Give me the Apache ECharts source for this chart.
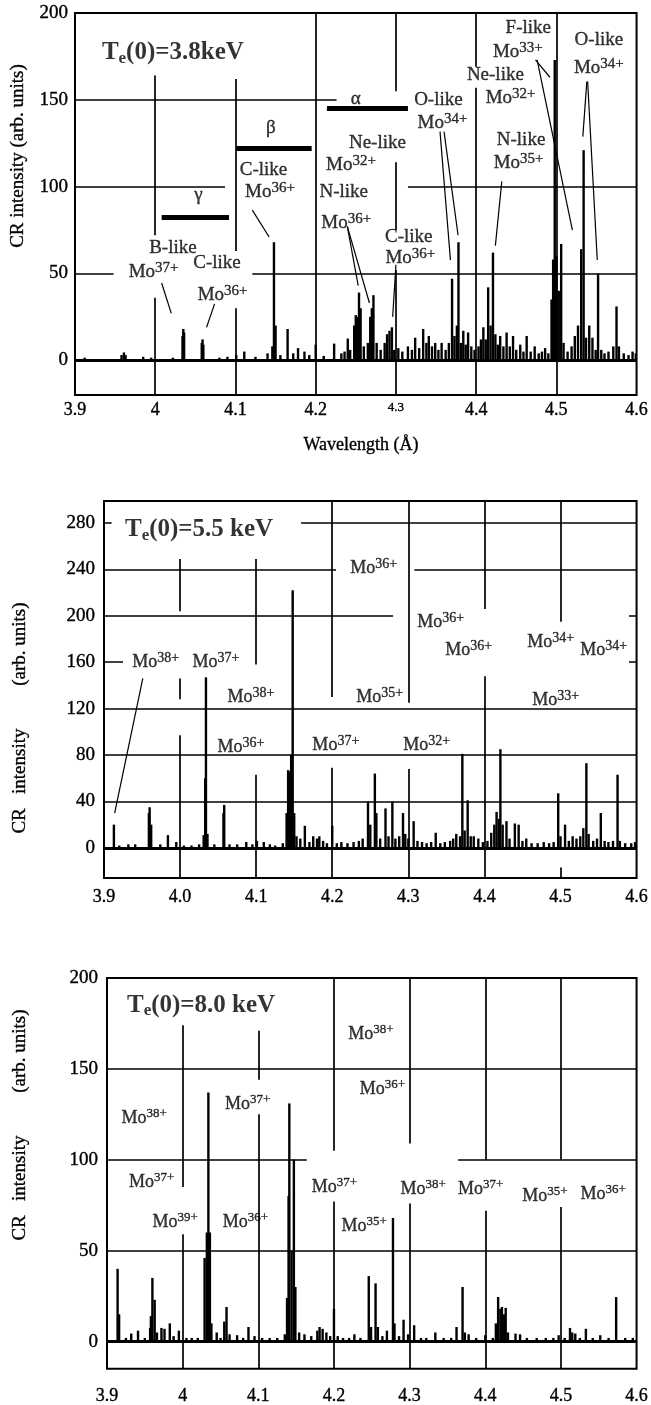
<!DOCTYPE html>
<html><head><meta charset="utf-8">
<script src="https://cdn.jsdelivr.net/npm/echarts@6/dist/echarts.min.js"></script>
<style>html,body{margin:0;padding:0;background:#fff}#c{width:651px;height:1405px}</style>
</head><body><div id="c"></div>
<script>
// ---------------- DATA ----------------
const xTicks = [3.9, 4.0, 4.1, 4.2, 4.3, 4.4, 4.5, 4.6];
const yTicks1 = [0, 50, 100, 150, 200];
const yTicks2 = [0, 40, 80, 120, 160, 200, 240, 280];
const yTicks3 = [0, 50, 100, 150, 200];

const titles = ['Te(0)=3.8keV', 'Te(0)=5.5 keV', 'Te(0)=8.0 keV'];
const titlePos = [[3.9335, 177], [3.9276, 274], [3.9264, 185]];

// spectra: [wavelength (Å), CR intensity]
const spec1 = [[3.912,1.5],[3.958,3],[3.961,4.5],[3.963,3],[3.985,2],[3.995,1.5],[4.022,1.5],
[4.034,14],[4.035,18],[4.036,16],[4.058,10],[4.059,12],[4.060,9],[4.080,1.5],[4.09,2],
[4.101,3],[4.111,5],[4.125,2],[4.140,4],[4.146,8],[4.148,68],[4.150,20],[4.156,3],[4.165,18],[4.172,4],[4.178,7],[4.186,5],[4.192,3],
[4.200,9],[4.210,2.5],[4.223,9.6],[4.232,4],[4.236,5],[4.240,12.5],[4.243,6],[4.248,20],[4.250,26],[4.252,25],[4.254,39],[4.256,30],[4.260,8],[4.265,10],[4.268,25],[4.270,30],[4.272,37.5],[4.276,10],[4.281,6],[4.286,10],[4.289,15],[4.292,17],[4.295,19],[4.298,6],[4.303,7],[4.308,5],[4.315,8],[4.320,6],[4.324,13],[4.329,7],[4.334,18],[4.338,10],[4.341,14],[4.345,8],[4.349,10],[4.353,6],[4.357,10],[4.362,6],[4.366,10],[4.370,47],[4.373,14],[4.376,20],[4.378,68],[4.381,10],[4.384,17],[4.387,9],[4.390,16],[4.394,8],[4.398,6],[4.403,8],[4.406,12],[4.409,19],[4.412,12],[4.415,42],[4.418,20],[4.421,62],[4.424,15],[4.427,9],[4.430,14],[4.434,8],[4.438,16],[4.442,8],[4.446,14],[4.450,6],[4.455,9],[4.459,5],[4.463,14],[4.468,5],[4.473,8],[4.478,4],[4.482,5],[4.486,7],[4.490,4],[4.494,35],[4.496,58],[4.498,173],[4.500,60],[4.503,40],[4.506,67],[4.509,10],[4.514,5],[4.519,8],[4.523,14],[4.527,20],[4.531,64],[4.534,121],[4.537,13],[4.541,20],[4.545,13],[4.549,6],[4.552,50],[4.556,6],[4.560,4],[4.565,5],[4.571,8],[4.575,31],[4.578,8],[4.584,4],[4.590,3],[4.595,5],[4.599,4]];

const spec2 = [[3.913,20],[3.920,2],[3.932,3],[3.941,3],[3.959,30],[3.960,35],[3.962,20],[3.974,3],[3.984,11],[3.995,5],[4.005,2],[4.015,2],[4.025,3],[4.031,11],[4.033,60],[4.034,147],[4.036,12],[4.045,3],[4.057,30],[4.058,37],[4.065,3],[4.075,3],[4.087,5],[4.095,3],[4.101,6],[4.110,5],[4.118,3],[4.125,2],[4.135,4],[4.140,30],[4.142,67],[4.144,66],[4.146,80],[4.148,222],[4.150,30],[4.153,10],[4.158,8],[4.164,19],[4.170,5],[4.175,10],[4.180,8],[4.183,10],[4.188,6],[4.193,4],[4.200,19],[4.206,4],[4.212,5],[4.220,4],[4.228,5],[4.235,6],[4.240,8],[4.247,40],[4.250,20],[4.256,64],[4.258,30],[4.263,8],[4.270,34],[4.274,10],[4.279,40],[4.283,8],[4.288,10],[4.293,30],[4.296,12],[4.300,8],[4.307,23],[4.312,6],[4.318,5],[4.324,4],[4.330,5],[4.336,13],[4.342,4],[4.348,5],[4.355,6],[4.359,8],[4.363,12],[4.368,10],[4.371,81],[4.374,15],[4.378,41],[4.382,10],[4.386,10],[4.392,8],[4.398,5],[4.404,6],[4.409,13],[4.413,20],[4.416,31],[4.419,25],[4.421,85],[4.424,20],[4.429,23],[4.433,8],[4.440,21],[4.445,20],[4.450,6],[4.455,8],[4.462,4],[4.470,4],[4.478,5],[4.485,4],[4.491,5],[4.497,47],[4.500,10],[4.506,20],[4.511,6],[4.516,10],[4.521,8],[4.526,10],[4.530,17],[4.534,73],[4.537,12],[4.543,6],[4.548,8],[4.553,30],[4.558,6],[4.563,5],[4.569,6],[4.575,63],[4.578,6],[4.585,4],[4.593,4],[4.598,5]];

const spec3 = [[3.914,40],[3.916,15],[3.925,2],[3.932,4.4],[3.941,6],[3.950,2],[3.957,7.5],[3.958,14],[3.960,35],[3.963,23],[3.966,5],[3.972,7.5],[3.976,7],[3.983,10],[3.988,3],[3.995,6],[4.005,2],[4.012,2],[4.020,2],[4.029,46],[4.032,60],[4.034,137],[4.036,60],[4.038,10],[4.045,5],[4.050,2],[4.055,11],[4.058,19],[4.062,4],[4.072,3.5],[4.080,2],[4.087,8],[4.095,3],[4.105,2],[4.115,2],[4.125,2],[4.135,4],[4.138,24],[4.140,80],[4.141,131],[4.144,50],[4.147,100],[4.149,30],[4.154,5],[4.161,4],[4.170,3],[4.178,6],[4.181,8],[4.185,7],[4.190,5],[4.195,3],[4.200,18],[4.205,3],[4.212,2],[4.220,2],[4.227,4],[4.235,2],[4.246,36],[4.249,8],[4.255,32],[4.258,8],[4.264,3],[4.270,6],[4.278,68],[4.280,10],[4.286,3],[4.292,12],[4.298,4],[4.306,9],[4.315,2],[4.322,2],[4.334,5],[4.345,2],[4.355,2],[4.362,8],[4.370,30],[4.373,5],[4.378,4],[4.388,2],[4.400,3.5],[4.410,2],[4.414,10],[4.417,24.5],[4.420,18],[4.422,19],[4.425,15],[4.427,18.5],[4.430,5],[4.440,4.4],[4.446,4],[4.455,2],[4.468,2],[4.480,2],[4.490,2],[4.497,3.5],[4.505,2],[4.512,7.5],[4.515,5],[4.519,4.4],[4.525,2],[4.533,7],[4.542,2],[4.552,3.5],[4.563,2],[4.573,24.5],[4.585,2],[4.595,2]];

// grid line pieces, horizontal: [intensity, from λ, to λ]; vertical: [λ, from I, to I]
const hGrid1 = [[150,3.9,4.226],[100,3.9,4.087],[100,4.315,4.6],[50,3.9,3.948],[50,4.121,4.6],[0,3.9,4.6]];
const vGrid1 = [[4.0,72,164],[4.0,-20,36],[4.1,63,162],[4.1,-20,30],[4.2,-20,200],[4.3,155,200],[4.3,75,114],[4.3,-20,52],[4.4,-20,157],[4.4,169,200],[4.5,-20,200]];
const hGrid2 = [[280,4.159,4.6],[280,3.9,3.91],[240,3.9,4.205],[240,4.308,4.6],[200,3.9,4.28],[200,4.59,4.6],[160,3.9,3.925],[160,4.59,4.6],[120,3.9,4.6],[80,3.9,4.6],[40,3.9,4.6],[0,3.9,4.6]];
const vGrid2 = [[4.0,204,249],[4.0,128,146],[4.0,-26,97],[4.1,158,249],[4.1,-26,63],[4.2,130,299],[4.2,-26,69],[4.3,125,299],[4.3,-26,68],[4.4,206,299],[4.4,-26,148],[4.5,195,299],[4.5,-26,-17]];
const hGrid3 = [[150,3.9,4.6],[100,3.9,4.164],[100,4.364,4.6],[50,3.9,4.6],[0,3.9,4.6]];
const vGrid3 = [[4.0,85,174],[4.0,-15,59],[4.1,144,171],[4.1,-15,125],[4.2,105,200],[4.2,-15,77],[4.3,109,200],[4.3,-15,76],[4.4,100,200],[4.4,-15,72],[4.5,100,200],[4.5,-15,74]];

// spectral bands (panel 1): [from λ, to λ, intensity]
const bands1 = [[4.008,4.092,82.5],[4.101,4.195,122],[4.214,4.315,145]];

// leader lines: [λ1, I1, λ2, I2]
const leaders1 = [[4.008,44.5,4.020,27],[4.074,32.5,4.064,19],[4.121,86.5,4.142,71],[4.2395,77,4.253,43],[4.2395,77,4.267,33],[4.300,55,4.296,25],[4.355,131.7,4.368,57.7],[4.360,131.7,4.3775,72],[4.432,103,4.424,66],[4.474,173,4.492,163],[4.476,173,4.520,75],[4.538,160.5,4.533,128.8],[4.539,160.5,4.551,57.7]];
const leaders2 = [[3.951,146,3.914,30]];

// annotations: [λ, I, text]
const labels1 = [[4.465,191.5,'F-like'],[4.452,177.7,'Mo33+'],[4.553,184.6,'O-like'],[4.553,168.4,'Mo34+'],
 [4.424,164.4,'Ne-like'],[4.443,151.1,'Mo32+'],[4.250,150.6,'α'],[4.353,150,'O-like'],[4.358,136.7,'Mo34+'],
 [4.144,133.8,'β'],[4.277,125.2,'Ne-like'],[4.456,126.9,'N-like'],[4.135,109.6,'C-like'],[4.244,112.5,'Mo32+'],
 [4.453,113.6,'Mo35+'],[4.143,96.9,'Mo36+'],[4.235,96.9,'N-like'],[4.054,95.2,'γ'],[4.238,79,'Mo36+'],
 [4.316,71,'C-like'],[4.318,58.8,'Mo36+'],[4.022,64.6,'B-like'],[3.998,50.8,'Mo37+'],[4.077,56,'C-like'],[4.084,37.5,'Mo36+']];
const labels2 = [[4.2546,241.2,'Mo36+'],[4.3426,194.7,'Mo36+'],[4.3794,170.6,'Mo36+'],[4.487,177.5,'Mo34+'],[4.5567,170.6,'Mo34+'],
 [3.968,160.2,'Mo38+'],[4.047,160.2,'Mo37+'],[4.093,130,'Mo38+'],[4.2625,130,'Mo35+'],[4.4936,127.5,'Mo33+'],
 [4.080,87,'Mo36+'],[4.2047,88.7,'Mo37+'],[4.3242,88.7,'Mo32+']];
const labels3 = [[4.249,168.9,'Mo38+'],[4.264,138.8,'Mo36+'],[3.949,122.9,'Mo38+'],[4.086,130.5,'Mo37+'],
 [3.959,87.7,'Mo37+'],[3.990,65.8,'Mo39+'],[4.083,65.8,'Mo36+'],[4.2006,85,'Mo37+'],[4.240,63.6,'Mo35+'],
 [4.318,83.9,'Mo38+'],[4.394,83.9,'Mo37+'],[4.479,80,'Mo35+'],[4.556,81.2,'Mo36+']];

const yName = ['CR intensity (arb. units)', 'CR   intensity         (arb. units)', 'CR   intensity         (arb. units)'];
const xName = 'Wavelength (Å)';

// ---------------- CHART ----------------
const FONT = '"Liberation Serif","Times New Roman",serif';
const INK = '#000';
const panels = [
  {grid:{left:75, top:13, width:564, height:382}, yMin:-20, yMax:200, yStep:10, yTicks:yTicks1, spec:spec1, h:hGrid1, v:vGrid1, labels:labels1, leaders:leaders1, bands:bands1,
   font:[19,15], xMargin:6, yMargin:7, xFmt:v=>{const r=Math.round(v*10)/10; return r===4.3?'{sm|4.3}':String(r);}},
  {grid:{left:104, top:501, width:533, height:377}, yMin:-26, yMax:299, yStep:2, yTicks:yTicks2, spec:spec2, h:hGrid2, v:vGrid2, labels:labels2, leaders:leaders2, bands:[],
   font:[18,14], xMargin:10, yMargin:9, xFmt:v=>(Math.round(v*10)/10).toFixed(1)},
  {grid:{left:107, top:978, width:531, height:392}, yMin:-15, yMax:200, yStep:5, yTicks:yTicks3, spec:spec3, h:hGrid3, v:vGrid3, labels:labels3, leaders:[], bands:[],
   font:[18,13], xMargin:18, yMargin:9, xFmt:v=>String(Math.round(v*10)/10)}
];

function ionRich(t){
  const m = t.match(/^Mo(\d+\+)$/);
  return m ? '{m|Mo}{s|' + m[1] + '}' : '{m|' + t + '}';
}
const heavy = {textBorderColor:INK, textBorderWidth:0.35};

const grids = [], xAxes = [], yAxes = [], series = [];
panels.forEach((p, i) => {
  grids.push(Object.assign({show:true, borderColor:INK, borderWidth:2, backgroundColor:'transparent'}, p.grid));
  xAxes.push({gridIndex:i, type:'value', min:xTicks[0], max:xTicks[xTicks.length-1], interval:0.1,
    axisLine:{show:false}, axisTick:{show:false}, splitLine:{show:false},
    axisLabel:Object.assign({margin:p.xMargin, fontSize:18, fontFamily:FONT, color:INK, formatter:p.xFmt,
      rich:{sm:Object.assign({fontSize:13, fontFamily:FONT, color:INK}, heavy)}}, heavy)});
  yAxes.push({gridIndex:i, type:'value', min:p.yMin, max:p.yMax, interval:p.yStep,
    axisLine:{show:false}, axisTick:{show:false}, splitLine:{show:false},
    axisLabel:Object.assign({margin:p.yMargin, fontSize:19, fontFamily:FONT, color:INK,
      formatter:v=>{const r=Math.round(v); return p.yTicks.indexOf(r)>=0 && Math.abs(v-r)<1e-6 ? String(r) : '';}}, heavy)});

  const gl = [];
  p.h.forEach(([y,x1,x2]) => gl.push({coords:[[x1,y],[x2,y]], lineStyle:{width: y===0 ? 2.8 : 1.7}}));
  p.v.forEach(([x,y1,y2]) => gl.push({coords:[[x,y1],[x,y2]], lineStyle:{width:1.7}}));
  series.push({type:'lines', coordinateSystem:'cartesian2d', xAxisIndex:i, yAxisIndex:i, silent:true, z:1,
    lineStyle:{color:INK, width:1.7, opacity:1}, data:gl});

  series.push({type:'bar', xAxisIndex:i, yAxisIndex:i, barWidth:2.4, silent:true, z:3,
    itemStyle:{color:INK}, data:p.spec});

  const ld = p.leaders.map(([a,b,c,d]) => ({coords:[[a,b],[c,d]]}));
  p.bands.forEach(([x1,x2,y]) => ld.push({coords:[[x1,y],[x2,y]], lineStyle:{width:5}}));
  if (ld.length) series.push({type:'lines', coordinateSystem:'cartesian2d', xAxisIndex:i, yAxisIndex:i, silent:true, z:4,
    lineStyle:{color:INK, width:1.2, opacity:1}, data:ld});

  series.push({type:'scatter', xAxisIndex:i, yAxisIndex:i, silent:true, z:5, symbolSize:1,
    itemStyle:{color:'rgba(0,0,0,0)'},
    label:{show:true, position:'inside', formatter:q=>ionRich(q.name),
      rich:{m:Object.assign({fontSize:p.font[0], fontFamily:FONT, color:INK, lineHeight:p.font[0]+4}, heavy),
            s:Object.assign({fontSize:p.font[1], fontFamily:FONT, color:INK, lineHeight:p.font[1]-3, verticalAlign:'top'}, heavy)}},
    data:p.labels.map(([x,y,t]) => ({name:t, value:[x,y]}))});

  series.push({type:'scatter', xAxisIndex:i, yAxisIndex:i, silent:true, z:5, symbolSize:1,
    itemStyle:{color:'rgba(0,0,0,0)'},
    label:{show:true, position:'inside', align:'left',
      formatter:q=>'{t|T}{e|e}{t|' + q.name.slice(2) + '}',
      rich:{t:{fontSize:25, fontWeight:'bold', fontFamily:FONT, color:INK, lineHeight:28},
            e:{fontSize:17, fontWeight:'bold', fontFamily:FONT, color:INK, lineHeight:13, verticalAlign:'bottom'}}},
    data:[{name:titles[i], value:titlePos[i]}]});
});

const yNamePos = [[18,156,19],[20,718,19],[20,1125,19]];
const graphic = yNamePos.map(([x,y,fs], i) => ({type:'text', x:x, y:y, rotation:Math.PI/2,
  style:{text:yName[i], fontSize:fs, fontFamily:FONT, fill:INK, stroke:INK, lineWidth:0.35, align:'center', verticalAlign:'middle', textAlign:'center', textVerticalAlign:'middle'}}));
graphic.push({type:'text', x:361, y:445, style:{text:xName, fontSize:18, fontFamily:FONT, fill:INK, stroke:INK, lineWidth:0.35, align:'center', verticalAlign:'middle', textAlign:'center', textVerticalAlign:'middle'}});

const chart = echarts.init(document.getElementById('c'), null, {renderer:'canvas'});
chart.setOption({animation:false, backgroundColor:'#fff', grid:grids, xAxis:xAxes, yAxis:yAxes, series:series, graphic:graphic});
</script></body></html>
